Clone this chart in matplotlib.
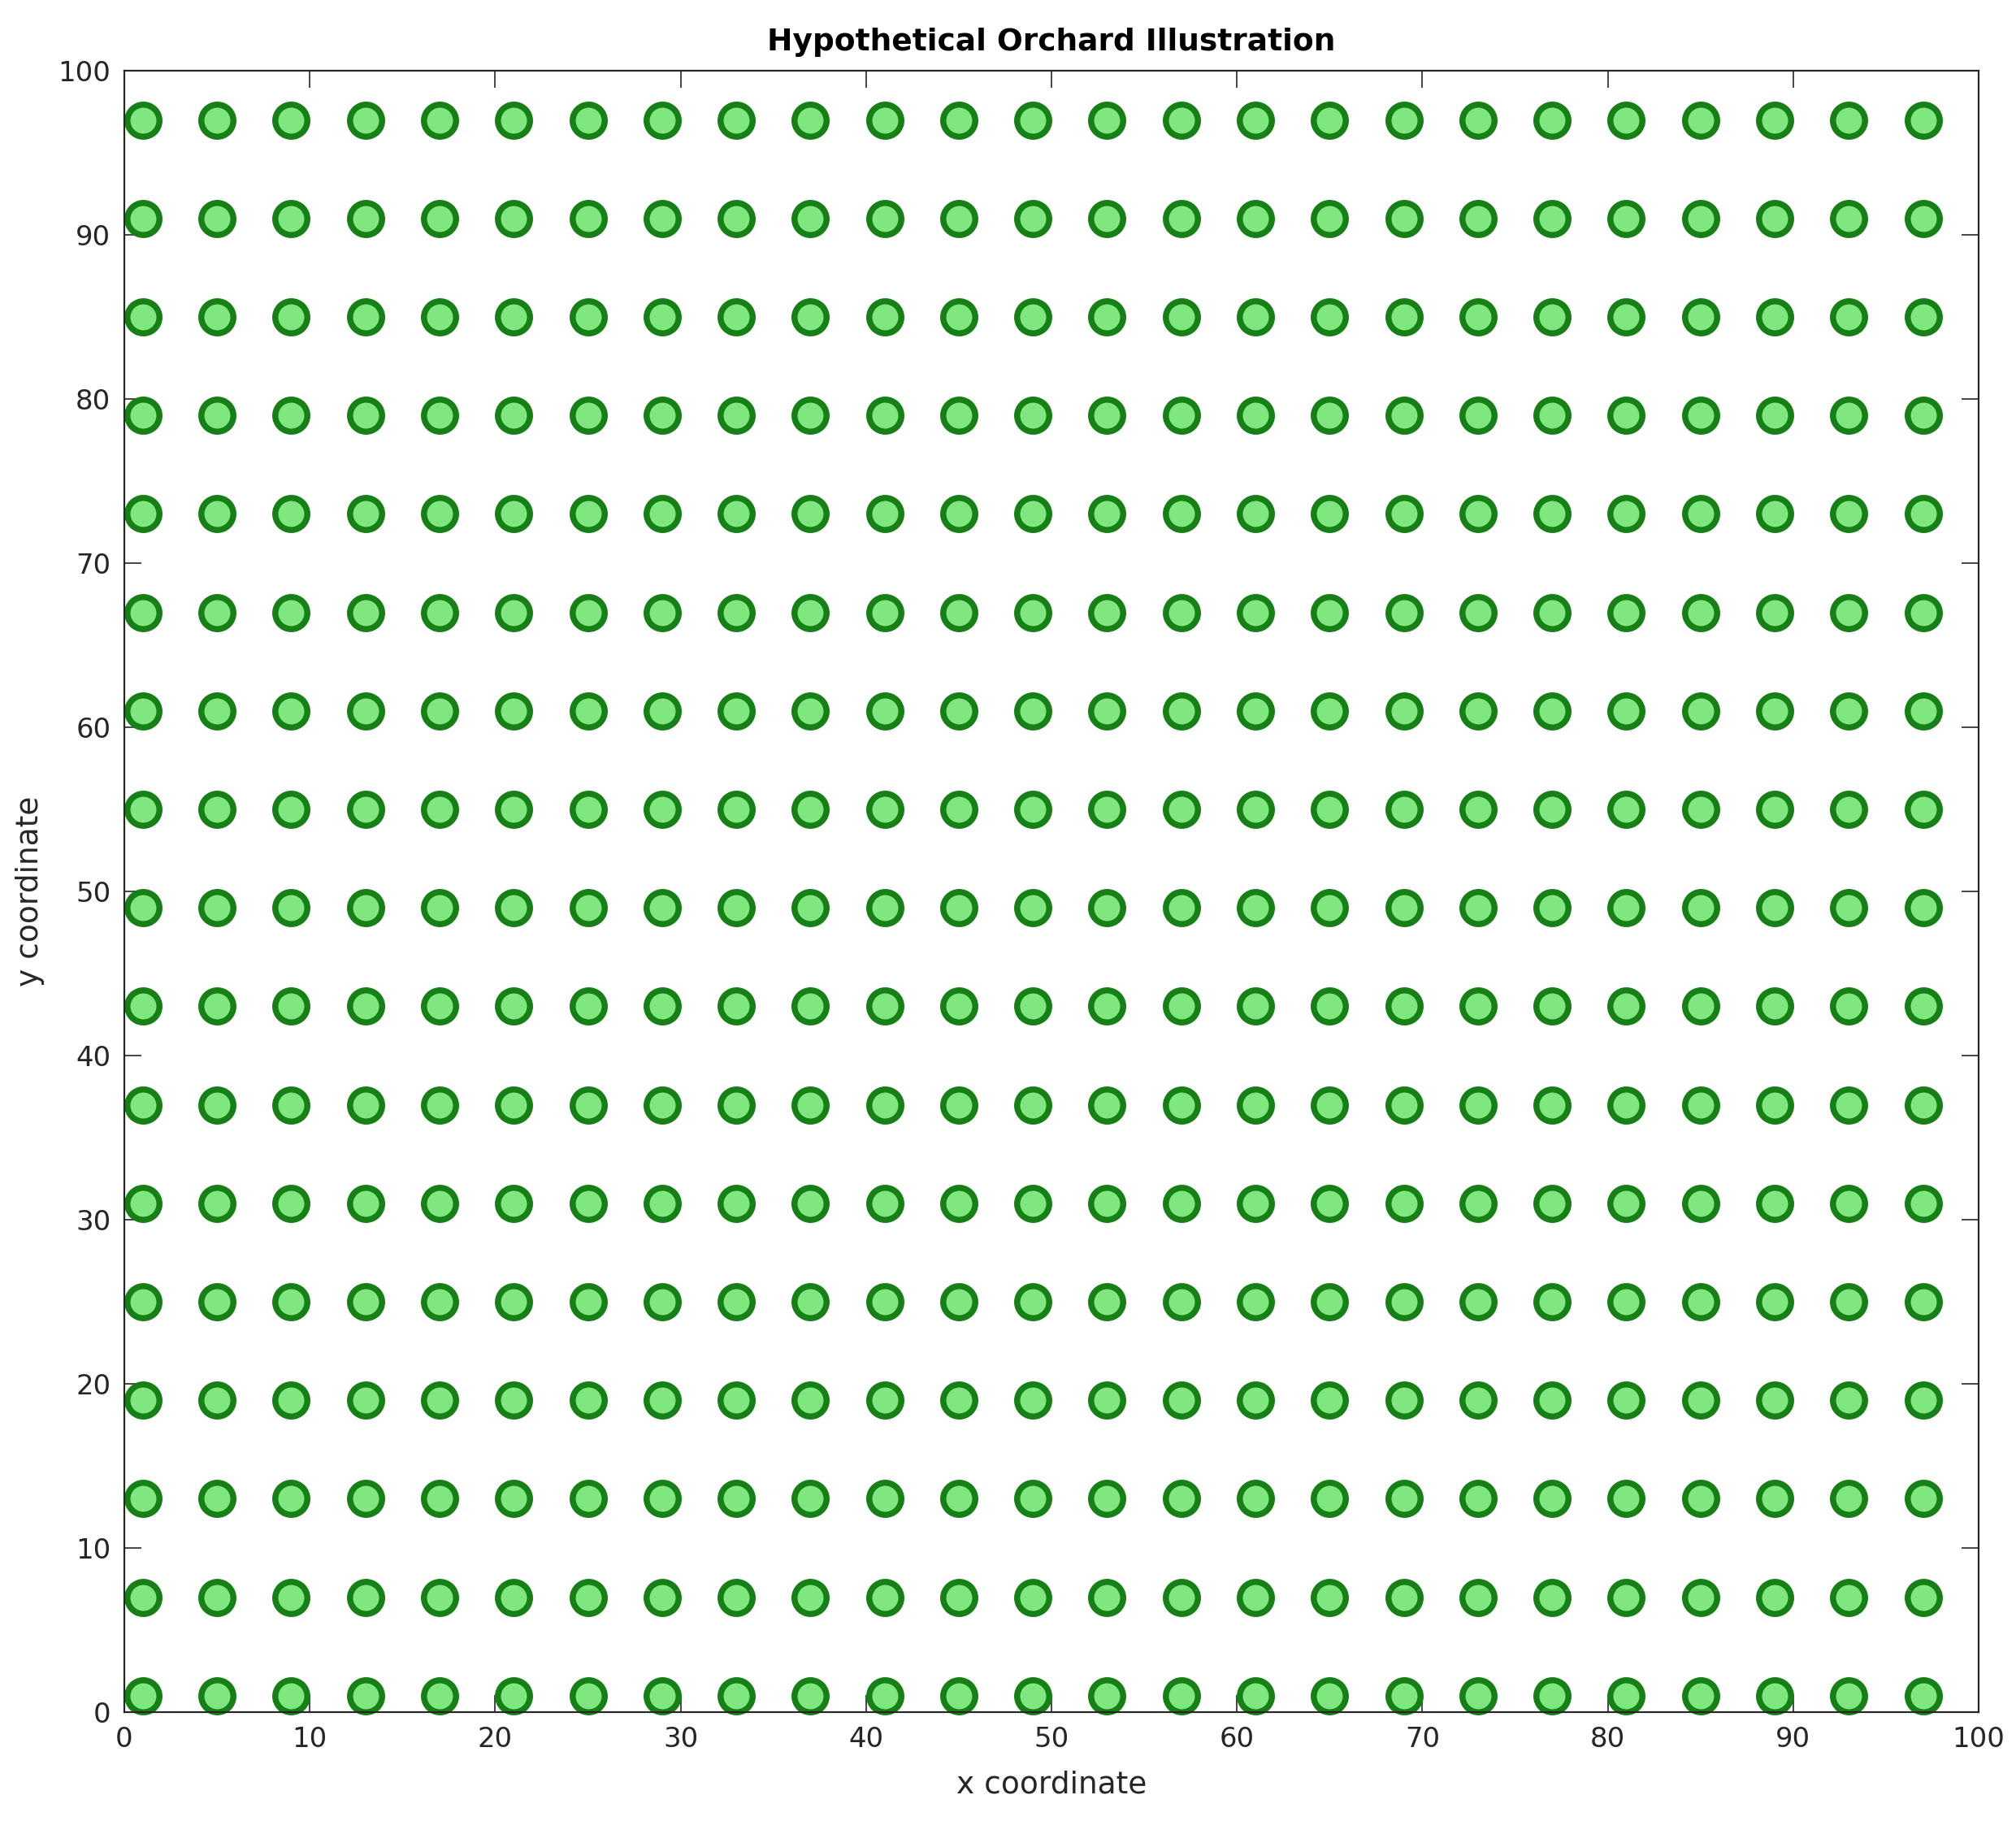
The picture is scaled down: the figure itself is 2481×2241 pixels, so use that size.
import matplotlib
matplotlib.use("Agg")
import matplotlib.pyplot as plt
import numpy as np

# Tree positions (orchard grid)
x_positions = [1, 5, 9, 13, 17, 21, 25, 29, 33, 37, 41, 45, 49, 53, 57, 61, 65,
               69, 73, 77, 81, 85, 89, 93, 97]
y_positions = [1, 7, 13, 19, 25, 31, 37, 43, 49, 55, 61, 67, 73, 79, 85, 91, 97]
x_ticks = [0, 10, 20, 30, 40, 50, 60, 70, 80, 90, 100]
y_ticks = [0, 10, 20, 30, 40, 50, 60, 70, 80, 90, 100]

DPI = 200
fig = plt.figure(figsize=(2481 / DPI, 2241 / DPI), dpi=DPI)
ax = fig.add_axes([153 / 2481, 1 - 2107 / 2241, (2435 - 153) / 2481, (2107 - 87) / 2241])

X, Y = np.meshgrid(x_positions, y_positions)
ax.plot(X.ravel(), Y.ravel(), linestyle='none', marker='o', markersize=14.2,
        markerfacecolor='#80e680', markeredgecolor='#168016', markeredgewidth=2.7,
        clip_on=False)

ax.set_xlim(0, 100)
ax.set_ylim(0, 100)
ax.set_xticks(x_ticks)
ax.set_yticks(y_ticks)
ax.tick_params(direction='in', length=7.5, width=0.6, top=True, right=True,
               labelsize=12.2, colors='#262626', pad=6)
for s in ax.spines.values():
    s.set_linewidth(0.8)
    s.set_color('#262626')

ax.set_xlabel('x coordinate', fontsize=13.5, color='#262626', labelpad=8)
ax.set_ylabel('y coordinate', fontsize=13.5, color='#262626', labelpad=6)
ax.set_title('Hypothetical Orchard Illustration', fontsize=13.5, fontweight='bold',
             pad=9)

fig.savefig('out.png', dpi=DPI, facecolor='white')
